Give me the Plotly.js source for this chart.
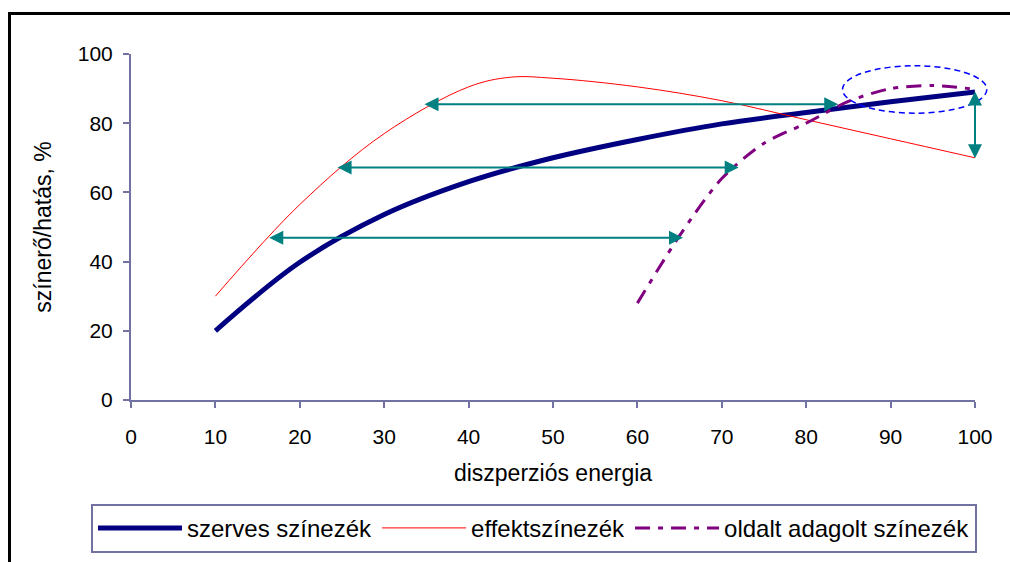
<!DOCTYPE html>
<html>
<head>
<meta charset="utf-8">
<script src="https://cdn.plot.ly/plotly-3.0.1.min.js"></script>
<style>
  html, body { margin: 0; padding: 0; background: #fff; overflow: hidden; }
  #wrap { position: relative; width: 1010px; height: 562px; }
  #chart { position: absolute; left: 0; top: 0; width: 1010px; height: 562px; }
  #frame { position: absolute; left: 8px; top: 12px; width: 1100px; height: 700px;
           border: 3px solid #000; pointer-events: none; box-sizing: border-box; }
</style>
</head>
<body>
<div id="wrap">
  <div id="chart"></div>
  <div id="frame"></div>
</div>
<script>
// ---- data ----
const xSzerves = [10, 20, 30, 40, 50, 60, 70, 80, 90, 100];
const ySzerves = [20, 39.8, 53.6, 63.1, 70.0, 75.3, 79.8, 83.1, 86.2, 89.0];

const xEffekt = [10, 20, 30, 40, 45, 50, 60, 70, 80, 90, 100];
const yEffekt = [30, 56.5, 77, 90.5, 93.3, 93, 90.5, 86.5, 81, 75.5, 70];

const xOldalt = [60, 65, 70, 75, 80, 85, 90, 95, 100];
const yOldalt = [28, 47.5, 64, 74.2, 80, 86.3, 90, 90.9, 89.8];

const seriesNames = ['szerves színezék', 'effektszínezék', 'oldalt adagolt színezék'];
const xTitle = 'diszperziós energia';
const yTitle = 'színerő/hatás, %';

// horizontal double arrows (y level, left end, right end)
const arrowY    = [85.5, 67.2, 46.9];
const arrowFrom = [34.6, 24.3, 16.2];
const arrowTo   = [83.8, 72.0, 65.4];
// vertical double arrow at x = 100
const vArrowX = 100, vArrowTop = 89.6, vArrowBottom = 69.9;
// dashed ellipse around the high-energy end
const ellipseX = [84.3, 101.4];
const ellipseY = [82.9, 96.6];

const xRange = [0, 100], yRange = [0, 100];

// ---- styling ----
const FONT = 'Liberation Sans, Arial, sans-serif';
const AXIS = '#7272a2';
const TEAL = '#008080';

const traces = [
  { x: xSzerves, y: ySzerves, name: seriesNames[0], type: 'scatter', mode: 'lines',
    line: { color: '#000080', width: 5, shape: 'spline', smoothing: 1.0 } },
  { x: xEffekt, y: yEffekt, name: seriesNames[1], type: 'scatter', mode: 'lines',
    line: { color: '#ff0000', width: 1, shape: 'spline', smoothing: 1.0 } },
  { x: xOldalt, y: yOldalt, name: seriesNames[2], type: 'scatter', mode: 'lines',
    line: { color: '#800080', width: 3, shape: 'spline', smoothing: 0.8, dash: '15px,8px,5px,8px' } }
];

const annotations = [];
arrowY.forEach((yv, i) => {
  annotations.push({
    x: arrowTo[i], y: yv, ax: arrowFrom[i], ay: yv, xref: 'x', yref: 'y', axref: 'x', ayref: 'y',
    text: '', showarrow: true, arrowside: 'end+start', arrowhead: 2, startarrowhead: 2,
    arrowsize: 1.4, startarrowsize: 1.4, arrowwidth: 2, arrowcolor: TEAL
  });
});
annotations.push({
  x: vArrowX, y: vArrowBottom, ax: vArrowX, ay: vArrowTop, xref: 'x', yref: 'y', axref: 'x', ayref: 'y',
  text: '', showarrow: true, arrowside: 'end+start', arrowhead: 2, startarrowhead: 2,
  arrowsize: 1.4, startarrowsize: 1.4, arrowwidth: 2, arrowcolor: TEAL
});

// map data values to paper fractions (axes span the full domain)
const px = v => (v - xRange[0]) / (xRange[1] - xRange[0]);
const py = v => (v - yRange[0]) / (yRange[1] - yRange[0]);

const shapes = [{
  type: 'circle', xref: 'paper', yref: 'paper',
  x0: px(ellipseX[0]), x1: px(ellipseX[1]), y0: py(ellipseY[0]), y1: py(ellipseY[1]),
  line: { color: '#0000ff', width: 1.5, dash: '6px,4px' }, fillcolor: 'rgba(0,0,0,0)'
}];

const layout = {
  width: 1010, height: 562,
  margin: { l: 131, r: 35, t: 54, b: 162, autoexpand: false },
  paper_bgcolor: '#ffffff', plot_bgcolor: '#ffffff',
  font: { family: FONT, color: '#000', size: 21 },
  showlegend: true,
  legend: {
    orientation: 'h', x: -0.0474, y: -0.300, xanchor: 'left', yanchor: 'top',
    bordercolor: AXIS, borderwidth: 2, bgcolor: '#fff',
    font: { family: FONT, size: 24, color: '#000' },
    itemwidth: 84, traceorder: 'normal'
  },
  xaxis: {
    range: xRange, dtick: 10, tick0: 0, showgrid: false, zeroline: false,
    showline: true, linecolor: AXIS, linewidth: 2,
    ticks: 'outside', ticklen: 6, tickwidth: 2, tickcolor: AXIS,
    ticklabelstandoff: 11,
    tickfont: { family: FONT, size: 21, color: '#000' },
    title: { text: xTitle, font: { family: FONT, size: 23, color: '#000' }, standoff: 18 },
    fixedrange: true
  },
  yaxis: {
    range: yRange, dtick: 20, tick0: 0, showgrid: false, zeroline: false,
    showline: true, linecolor: AXIS, linewidth: 2,
    ticks: 'outside', ticklen: 6, tickwidth: 2, tickcolor: AXIS,
    ticklabelstandoff: 6,
    tickfont: { family: FONT, size: 21, color: '#000' },
    title: { text: yTitle, font: { family: FONT, size: 23, color: '#000' }, standoff: 20 },
    fixedrange: true
  },
  annotations: annotations,
  shapes: shapes
};

Plotly.newPlot('chart', traces, layout, { displayModeBar: false, staticPlot: true });
</script>
</body>
</html>
